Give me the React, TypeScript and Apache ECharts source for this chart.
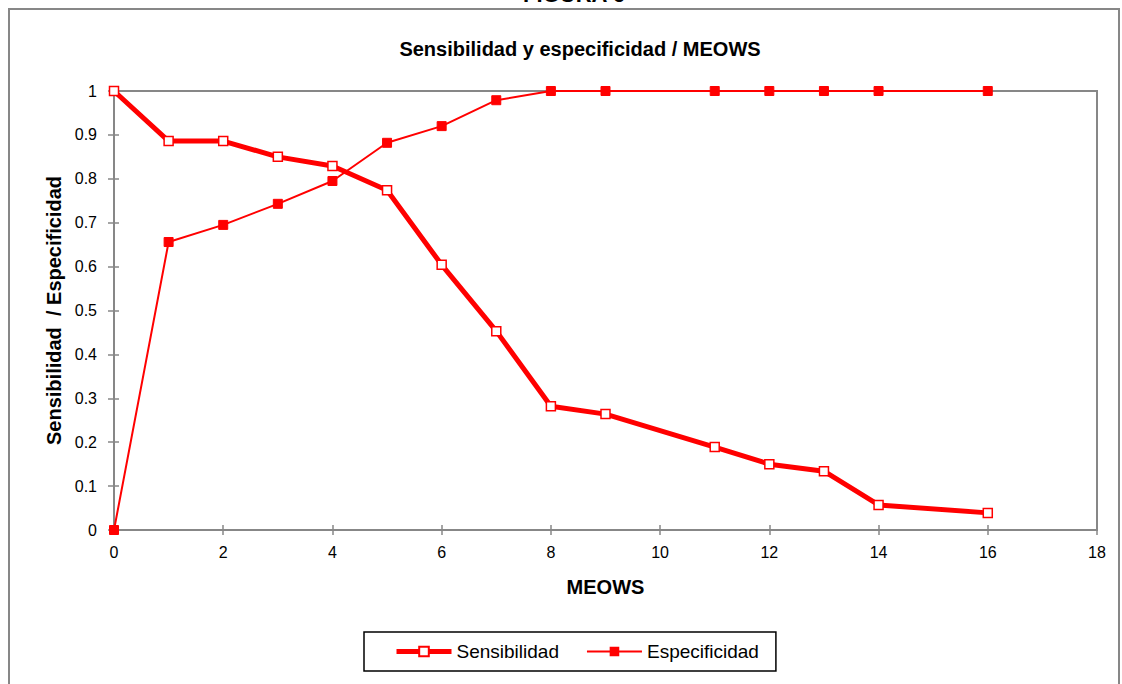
import React, { useEffect, useRef } from "react";
import * as echarts from "echarts";

const xValues = [0, 1, 2, 3, 4, 5, 6, 7, 8, 9, 11, 12, 13, 14, 16];
const sensibilidad = [1, 0.886, 0.886, 0.85, 0.829, 0.774, 0.604, 0.453, 0.282, 0.264, 0.189, 0.15, 0.134, 0.057, 0.039];
const especificidad = [0, 0.656, 0.695, 0.743, 0.795, 0.882, 0.92, 0.979, 1, 1, 1, 1, 1, 1, 1];

const title = "Sensibilidad y especificidad / MEOWS";
const figLabel = "FIGURA 6";
const xName = "MEOWS";
const yName = "Sensibilidad  / Especificidad";

export default function App() {
  const ref = useRef<HTMLDivElement>(null);
  useEffect(() => {
    if (!ref.current) return;
    const chart = echarts.init(ref.current, undefined, { renderer: "svg" });
    const gray = "#878787";
    const font = "'Liberation Sans', Arial, sans-serif";
    const axisCommonX = {
      type: "value" as const,
      min: 0,
      max: 18,
      interval: 2,
      splitLine: { show: false },
    };
    const axisCommonY = {
      type: "value" as const,
      min: 0,
      max: 1,
      interval: 0.1,
      splitLine: { show: false },
    };
    chart.setOption({
      animation: false,
      backgroundColor: "#fff",
      title: {
        text: title,
        left: 575,
        top: 34,
        textAlign: "center",
        textStyle: { fontFamily: font, fontWeight: "bold", fontSize: 20, color: "#000" },
      },
      graphic: [
        {
          type: "rect",
          shape: { x: 9, y: 9, width: 1110, height: 700 },
          style: { fill: "none", stroke: gray, lineWidth: 2 },
          silent: true,
        },
        {
          type: "text",
          x: 574,
          y: 5,
          style: {
            text: figLabel,
            fontFamily: font,
            fontWeight: "bold",
            fontSize: 22,
            fill: "#000",
            align: "center",
            verticalAlign: "bottom",
          },
        },
      ],
      grid: {
        left: 114,
        right: 25,
        top: 91,
        bottom: 154,
        show: true,
        borderColor: gray,
        borderWidth: 2,
        backgroundColor: "transparent",
      },
      legend: {
        left: 364,
        top: 632,
        padding: [10, 17, 10, 30],
        borderColor: "#000",
        borderWidth: 1.5,
        itemWidth: 55,
        itemHeight: 12,
        itemGap: 27,
        textStyle: { fontFamily: font, fontSize: 19, color: "#000" },
        data: [
          { name: "Sensibilidad", lineStyle: { width: 5 } },
          { name: "Especificidad", lineStyle: { width: 2 } },
        ],
      },
      xAxis: [
        {
          ...axisCommonX,
          name: xName,
          nameLocation: "middle",
          nameGap: 47,
          nameTextStyle: { fontFamily: font, fontWeight: "bold", fontSize: 20, color: "#000" },
          axisLine: { lineStyle: { color: gray, width: 2 } },
          axisTick: { inside: false, length: 5, lineStyle: { color: gray, width: 1.5 } },
          axisLabel: { fontFamily: font, fontSize: 16, color: "#000", margin: 14 },
        },
        {
          ...axisCommonX,
          position: "bottom",
          axisLine: { show: false },
          axisTick: { inside: true, length: 5, lineStyle: { color: gray, width: 1.5 } },
          axisLabel: { show: false },
        },
      ],
      yAxis: [
        {
          ...axisCommonY,
          name: yName,
          nameLocation: "middle",
          nameGap: 50,
          nameTextStyle: { fontFamily: font, fontWeight: "bold", fontSize: 20, color: "#000" },
          axisLine: { show: true, lineStyle: { color: gray, width: 2 } },
          axisTick: { show: true, inside: false, length: 6, lineStyle: { color: gray, width: 1.5 } },
          axisLabel: { fontFamily: font, fontSize: 16, color: "#000", margin: 17 },
        },
        {
          ...axisCommonY,
          position: "left",
          axisLine: { show: false },
          axisTick: { show: true, inside: true, length: 5, lineStyle: { color: gray, width: 1.5 } },
          axisLabel: { show: false },
        },
      ],
      series: [
        {
          name: "Sensibilidad",
          type: "line",
          xAxisIndex: 0,
          yAxisIndex: 0,
          data: xValues.map((x, i) => [x, sensibilidad[i]]),
          lineStyle: { color: "#ff0000", width: 5 },
          itemStyle: { color: "#fff", borderColor: "#ff0000", borderWidth: 1.5 },
          symbol: "rect",
          symbolSize: 9,
          showAllSymbol: true,
          z: 3,
        },
        {
          name: "Especificidad",
          type: "line",
          xAxisIndex: 0,
          yAxisIndex: 0,
          data: xValues.map((x, i) => [x, especificidad[i]]),
          lineStyle: { color: "#ff0000", width: 2 },
          itemStyle: { color: "#ff0000", borderColor: "#ff0000" },
          symbol: "rect",
          symbolSize: 9,
          showAllSymbol: true,
          z: 2,
        },
      ],
    });
    return () => chart.dispose();
  }, []);
  return (
    <div
      ref={ref}
      style={{ position: "fixed", left: 0, top: 0, width: 1122, height: 684, background: "#fff" }}
    />
  );
}
